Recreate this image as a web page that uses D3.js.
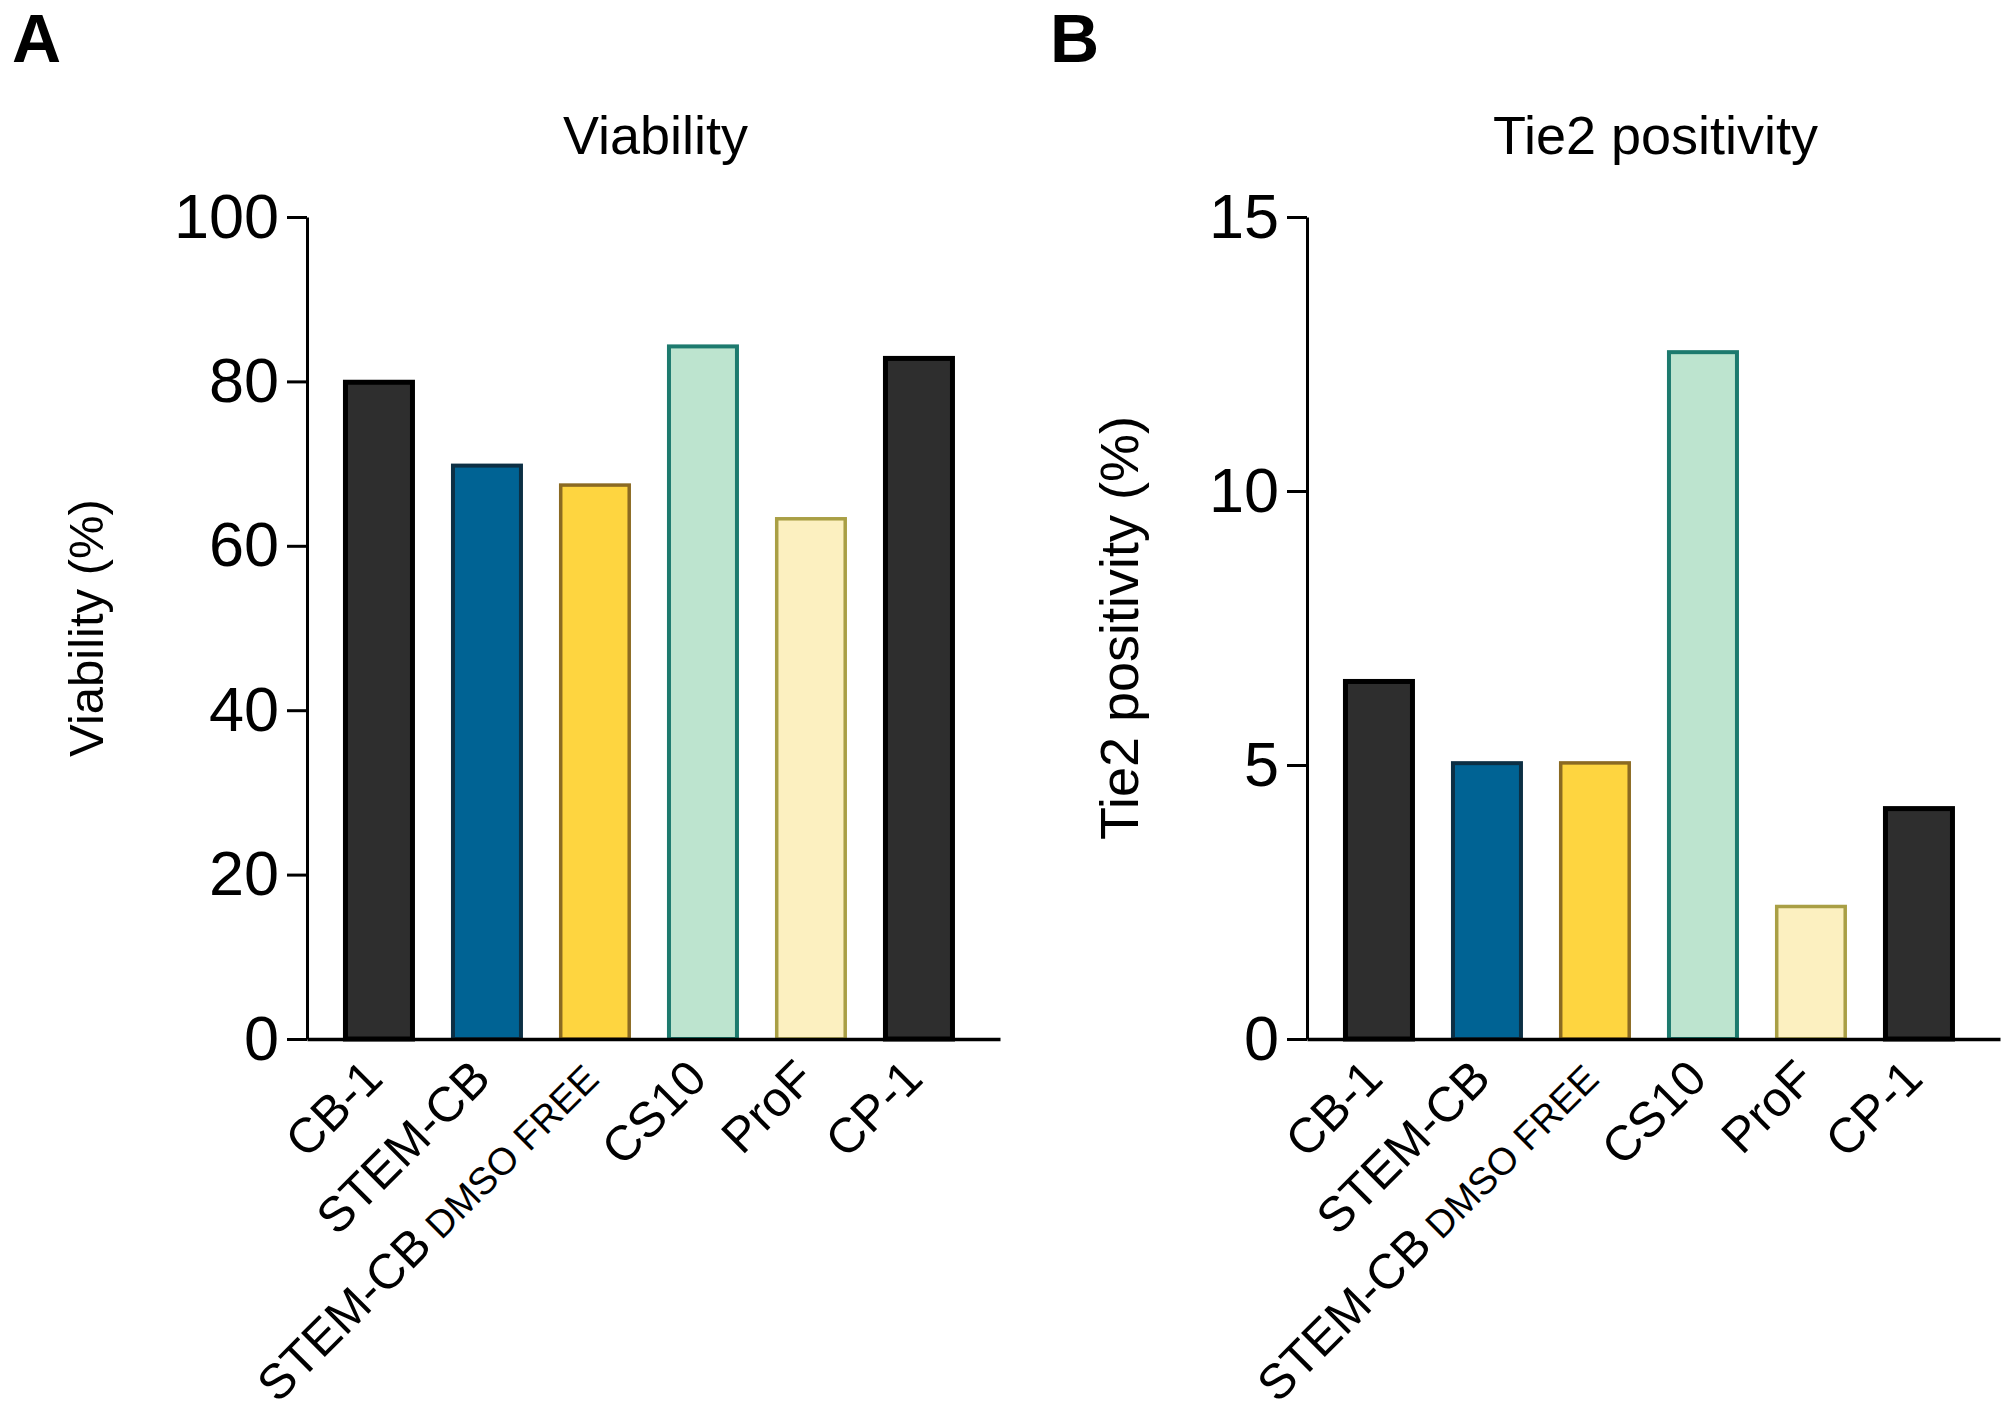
<!DOCTYPE html>
<html>
<head>
<meta charset="utf-8">
<script src="https://cdn.jsdelivr.net/npm/d3@7"></script>
<style>
  html, body { margin: 0; padding: 0; background: #fff; }
  svg { display: block; }
  text { font-family: "Liberation Sans", Arial, Helvetica, sans-serif; fill: #000; }
</style>
</head>
<body>
<svg id="chart" width="2006" height="1422"></svg>
<script>
// ---- data ----
const categories = ["CB-1", "STEM-CB", "STEM-CB DMSO FREE", "CS10", "ProF", "CP-1"];
const viabilityValues = [80.2, 70.0, 67.6, 84.5, 63.5, 83.1];
const tie2Values = [6.57, 5.07, 5.07, 12.57, 2.45, 4.25];
const viabilityTicks = [0, 20, 40, 60, 80, 100];
const tie2Ticks = [0, 5, 10, 15];
const panelLetters = ["A", "B"];
const panelTitles = ["Viability", "Tie2 positivity"];
const yAxisTitles = ["Viability (%)", "Tie2 positivity (%)"];

// ---- styles ----
const barFills   = ["#2e2e2e", "#006394", "#fed540", "#bde4cf", "#fcf0c0", "#2e2e2e"];
const barStrokes = ["#000000", "#0c2f44", "#8b6a22", "#1d7a6e", "#a99f45", "#000000"];
const barStrokeW = [5, 4, 3.5, 4, 3.5, 5];

const svg = d3.select("#chart");

function drawPanel(opts) {
  const g = svg.append("g").attr("transform", `translate(${opts.dx},0)`);
  const left = 307, right = 1000, top = 217, bottom = 1039;

  const x = d3.scaleBand().domain(categories).range([left, right])
    .paddingInner(1 / 3).paddingOuter(0.375).align(0.444);
  const y = d3.scaleLinear().domain([0, opts.max]).range([bottom, top]);

  // bars
  g.selectAll("rect.bar").data(opts.values).enter().append("rect")
    .attr("class", "bar")
    .attr("x", (d, i) => x(categories[i]) + barStrokeW[i] / 2)
    .attr("y", (d, i) => y(d) + barStrokeW[i] / 2)
    .attr("width", (d, i) => x.bandwidth() - barStrokeW[i])
    .attr("height", (d, i) => y(0) - y(d) - barStrokeW[i] / 2)
    .attr("fill", (d, i) => barFills[i])
    .attr("stroke", (d, i) => barStrokes[i])
    .attr("stroke-width", (d, i) => barStrokeW[i]);

  // y axis
  const yAxis = d3.axisLeft(y).tickValues(opts.ticks).tickSize(20).tickPadding(8).tickSizeOuter(0);
  const ya = g.append("g").attr("transform", `translate(${left},0)`).call(yAxis);
  ya.select(".domain").attr("stroke", "#000").attr("stroke-width", 3);
  ya.selectAll(".tick line").attr("stroke", "#000").attr("stroke-width", 3);
  ya.selectAll(".tick text")
    .attr("font-size", 63)
    .attr("font-family", '"Liberation Sans", Arial, sans-serif')
    .attr("fill", "#000");

  // x axis
  const xAxis = d3.axisBottom(x).tickSize(0).tickSizeOuter(0).tickFormat("");
  const xa = g.append("g").attr("transform", `translate(0,${bottom})`).call(xAxis);
  xa.select(".domain").attr("stroke", "#000").attr("stroke-width", 3.5);

  // x labels (rotated)
  const lab = g.selectAll("text.xlab").data(categories).enter().append("text")
    .attr("class", "xlab")
    .attr("text-anchor", "end")
    .attr("font-size", 49)
    .attr("transform", d => `translate(${x(d) + x.bandwidth() / 2 + 6},${bottom + 42}) rotate(-45)`);
  lab.each(function(d) {
    const t = d3.select(this);
    const idx = d.indexOf(" DMSO");
    if (idx >= 0) {
      t.append("tspan").text(d.slice(0, idx));
      t.append("tspan").attr("font-size", 38).text("\u00a0" + d.slice(idx + 1));
    } else {
      t.text(d);
    }
  });

  // title
  g.append("text")
    .attr("x", (left + right) / 2 + 2)
    .attr("y", 154)
    .attr("text-anchor", "middle")
    .attr("font-size", 54)
    .text(opts.title);

  // y axis title
  g.append("text")
    .attr("transform", `translate(${opts.yTitleX},628) rotate(-90)`)
    .attr("text-anchor", "middle")
    .attr("font-size", opts.yTitleSize)
    .text(opts.yTitle);

  // panel letter
  g.append("text")
    .attr("x", opts.letterX)
    .attr("y", 62)
    .attr("font-size", 68)
    .attr("font-weight", "bold")
    .text(opts.letter);
}

drawPanel({
  dx: 0, values: viabilityValues, max: 100, ticks: viabilityTicks,
  title: panelTitles[0], yTitle: yAxisTitles[0], yTitleX: 103, yTitleSize: 49,
  letter: panelLetters[0], letterX: 12
});
drawPanel({
  dx: 1000, values: tie2Values, max: 15, ticks: tie2Ticks,
  title: panelTitles[1], yTitle: yAxisTitles[1], yTitleX: 138, yTitleSize: 54,
  letter: panelLetters[1], letterX: 50
});
</script>
</body>
</html>
